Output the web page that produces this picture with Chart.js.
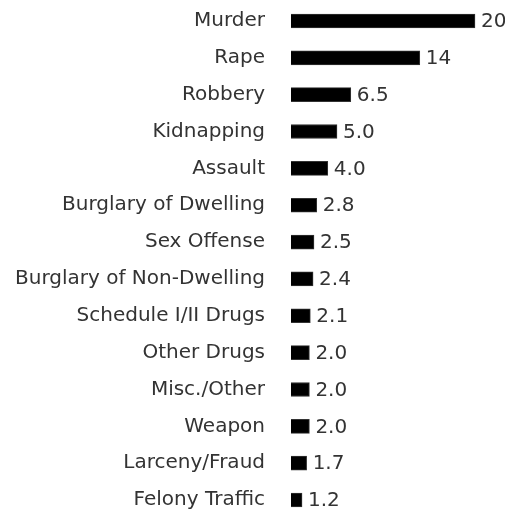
<!DOCTYPE html>
<html>
<head>
<meta charset="utf-8">
<script src="https://cdn.jsdelivr.net/npm/chart.js@4"></script>
<style>
  html, body { margin: 0; padding: 0; background: #fff; }
  #wrap { width: 505px; height: 512px; }
</style>
</head>
<body>
<div id="wrap"><canvas id="crimeChart"></canvas></div>
<script>
const offenses = [
  'Murder', 'Rape', 'Robbery', 'Kidnapping', 'Assault',
  'Burglary of Dwelling', 'Sex Offense', 'Burglary of Non-Dwelling',
  'Schedule I/II Drugs', 'Other Drugs', 'Misc./Other', 'Weapon',
  'Larceny/Fraud', 'Felony Traffic'
];
const values = [20, 14, 6.5, 5.0, 4.0, 2.8, 2.5, 2.4, 2.1, 2.0, 2.0, 2.0, 1.7, 1.2];

const fontFamily = '"DejaVu Sans", sans-serif';
const fontSize = 20;
const textColor = '#333';

// noms a gauche + valeur au bout de chaque barre
const barText = {
  id: 'barText',
  afterDatasetsDraw(chart) {
    const ctx = chart.ctx;
    const meta = chart.getDatasetMeta(0);
    const left = chart.chartArea.left;
    ctx.save();
    ctx.font = `${fontSize}px ${fontFamily}`;
    ctx.fillStyle = textColor;
    ctx.textBaseline = 'middle';
    meta.data.forEach((bar, i) => {
      ctx.textAlign = 'right';
      ctx.fillText(offenses[i], left - 26, bar.y);
      const v = values[i];
      const txt = v >= 10 ? String(v) : v.toFixed(1);
      ctx.textAlign = 'left';
      ctx.fillText(txt, bar.x + 6, bar.y + 1);
    });
    ctx.restore();
  }
};

new Chart(document.getElementById('crimeChart'), {
  type: 'bar',
  data: {
    labels: offenses,
    datasets: [{
      data: values,
      backgroundColor: '#000',
      borderColor: '#333',
      borderWidth: 1,
      barThickness: 14,
      clip: false
    }]
  },
  options: {
    indexAxis: 'y',
    responsive: true,
    maintainAspectRatio: false,
    animation: false,
    layout: { padding: { top: 21, bottom: 12, left: 291, right: 30 } },
    plugins: {
      legend: { display: false },
      tooltip: { enabled: false }
    },
    scales: {
      x: { display: false, min: 0, max: 20 },
      y: { display: false, offset: false }
    }
  },
  plugins: [barText]
});
</script>
</body>
</html>
